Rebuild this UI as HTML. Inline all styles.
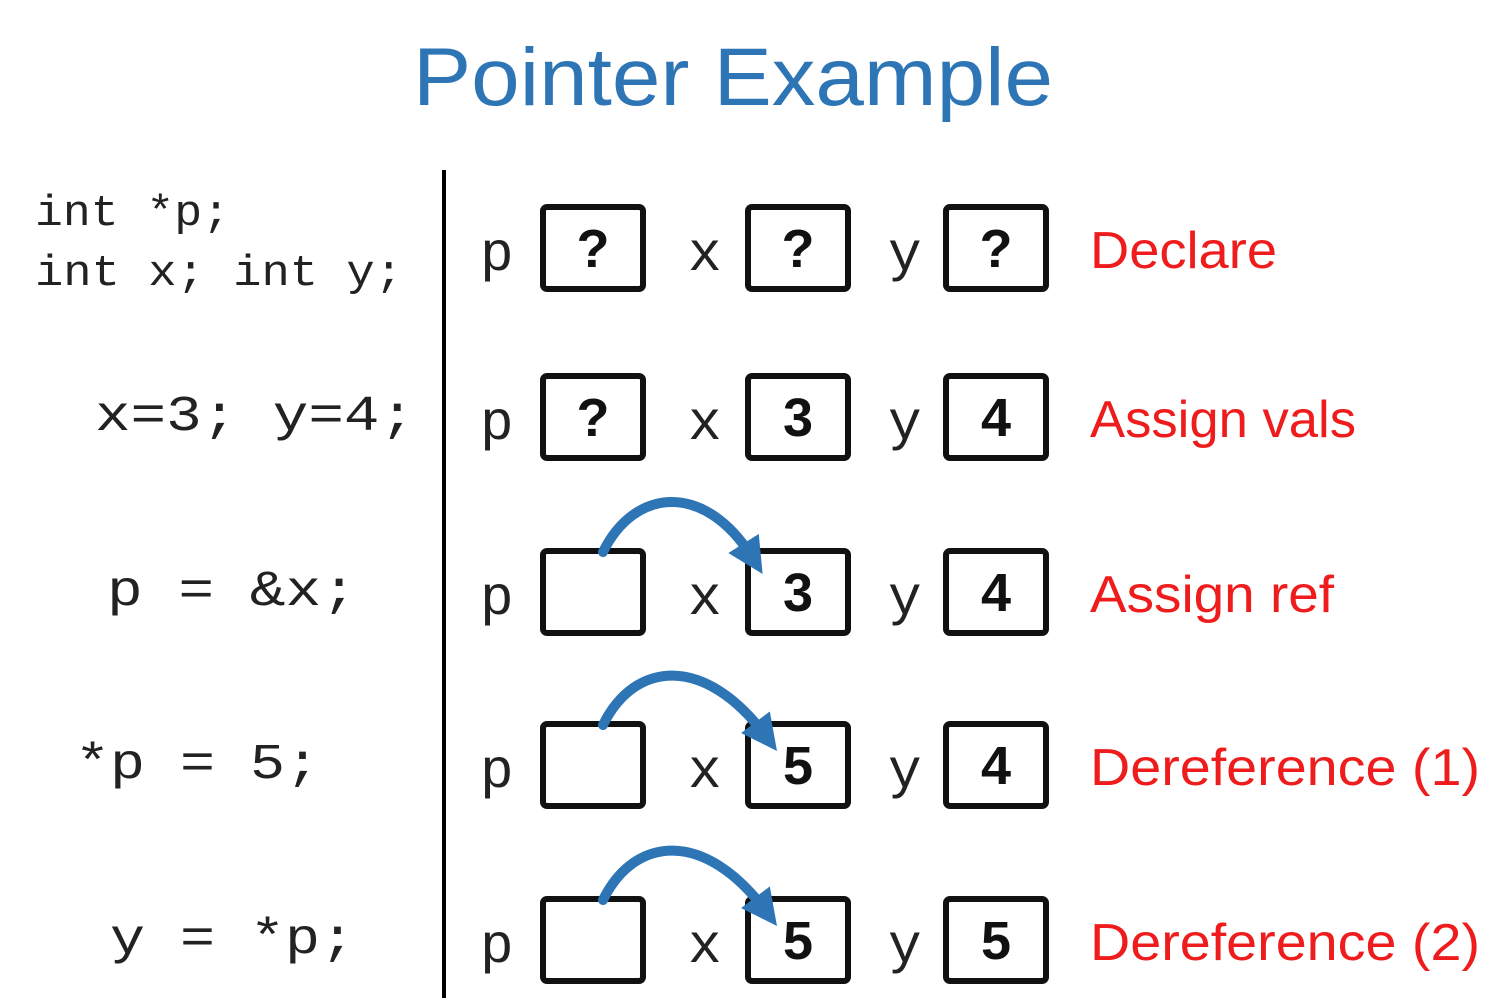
<!DOCTYPE html>
<html><head><meta charset="utf-8"><style>
html,body{margin:0;padding:0;background:#fff;}
svg{display:block;}
</style></head><body>
<svg id="s" width="1486" height="998" viewBox="0 0 1486 998" xmlns="http://www.w3.org/2000/svg">
<defs>
<marker id="ah" markerWidth="3.6" markerHeight="3.6" refX="1.6" refY="1.8" orient="auto" markerUnits="strokeWidth"><path d="M0,0 L3.6,1.8 L0,3.6 Z" fill="#2e75b6"/></marker>
</defs>
<text x="413" y="105" font-family="Liberation Sans, sans-serif" font-size="82" fill="#2e75b6" textLength="640" lengthAdjust="spacingAndGlyphs">Pointer Example</text>
<line x1="444" y1="170" x2="444" y2="998" stroke="#000" stroke-width="4"/>
<text x="35" y="225" font-family="Liberation Mono, monospace" font-size="44" fill="#222" textLength="195" lengthAdjust="spacingAndGlyphs">int *p;</text>
<text x="35" y="285" font-family="Liberation Mono, monospace" font-size="44" fill="#222" textLength="368" lengthAdjust="spacingAndGlyphs">int x; int y;</text>
<g id="rows"></g>
</svg>
<script>
const codes=["x=3; y=4;","p = &x;","*p = 5;","y = *p;"];
const codeX=[95,107,75,110];
const codeW=[320,250,245,245];
const pVals=["?","?","","",""];
const xVals=["?","3","3","5","5"];
const yVals=["?","4","4","4","5"];
const labels=["Declare","Assign vals","Assign ref","Dereference (1)","Dereference (2)"];
const labelW=[187,266,244,390,390];
const arrows=[false,false,true,true,true];
const rowY=[248,417,592,765,940];
const NS="http://www.w3.org/2000/svg";
const g=document.getElementById('rows');
function mk(t,a,txt){const e=document.createElementNS(NS,t);for(const k in a)e.setAttribute(k,a[k]);if(txt!==undefined)e.textContent=txt;g.appendChild(e);return e;}
codes.forEach((c,i)=>{
 const e=mk('text',{x:codeX[i],y:rowY[i+1]+13,'font-family':'Liberation Mono, monospace','font-size':50,fill:'#222',textLength:codeW[i],lengthAdjust:'spacingAndGlyphs'},c);
 
 
});
const boxX=[543,748,946];
const names=["p","x","y"];
const nameX=[480,688,888];
rowY.forEach((cy,i)=>{
 const vals=[pVals[i],xVals[i],yVals[i]];
 for(let j=0;j<3;j++){
  const n=mk('text',{x:nameX[j],y:cy+22,'font-family':'Liberation Mono, monospace','font-size':56,fill:'#222'},names[j]);
  
  
  const r=mk('rect',{x:boxX[j],y:cy-41,width:100,height:82,rx:4,fill:'#fff',stroke:'#111','stroke-width':6});
  
  
  if(vals[j]!==''){
   const v=mk('text',{x:boxX[j]+50,y:cy+19,'text-anchor':'middle','font-family':'Liberation Sans, sans-serif','font-weight':'bold','font-size':54,fill:'#111'},vals[j]);
   
   
  }
 }
 const l=mk('text',{x:1090,y:cy+20,'font-family':'Liberation Sans, sans-serif','font-size':52,fill:'#ee1c1c',textLength:labelW[i],lengthAdjust:'spacingAndGlyphs'},labels[i]);
 
 
 if(arrows[i]){
  const ex=i===2?752:765, ey=i===2?cy-35:cy-30;
  const a=mk('path',{d:`M603,${cy-40} C635,${cy-105} 705,${cy-110} ${ex},${ey}`,fill:'none',stroke:'#2e75b6','stroke-width':10,'stroke-linecap':'round','marker-end':'url(#ah)'});
  
  
 }
});
</script>
</body></html>
